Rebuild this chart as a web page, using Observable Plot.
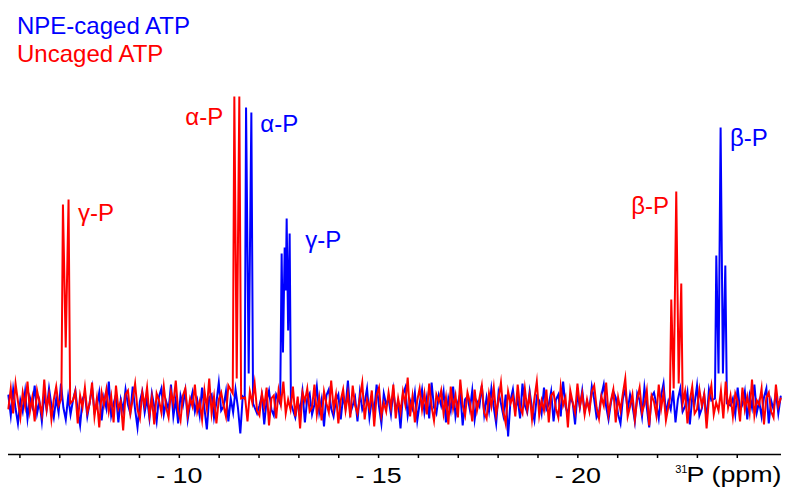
<!DOCTYPE html>
<html>
<head>
<meta charset="utf-8">
<script src="https://cdn.jsdelivr.net/npm/d3@7"></script>
<script src="https://cdn.jsdelivr.net/npm/@observablehq/plot@0.6"></script>
<style>
  html, body { margin: 0; padding: 0; background: #fff; }
  #chart svg { display: block; }
</style>
</head>
<body>
<div id="chart"></div>
<script>
// ---- Data ----
const ppmStart = -5.56;
const ppmStep = -0.06;

// baseline noise, NPE-caged ATP (blue)
const blueNoise = [
  8, -12, 14, -5, -20, 3, -8, 12, -15, 6, -3, 18, -10, 2, -18, 9, -6, 15, -2, -14,
  5, -9, 20, -4, -16, 7, -11, 3, 13, -7, -22, 4, 10, -13, 1, 16, -8, -3, 11, -17,
  6, -5, 22, -12, 0, 9, -19, 4, -7, 14, -1, -10, 17, -6, -24, 2, 12, -9, 5, -15,
  10, -3, -18, 7, 15, -11, 2, -6, 19, -13, 4, -20, 8, -2, 13, -16, 0, 11, -8, 3,
  -12, 16, -5, -26, 6, 9, -14, 1, 21, -7, -3, 12, -18, 5, -9, 14, -4, -30, 7, 2,
  11, -15, 4, 18, -10, -2, 8, -21, 3, 13, -6, -12, 9, 0, -17, 15, -8, 6, -3, 20,
  -14, 2, -7, 12, -19, 5, 10, -11, -1, 17, -9, 4, -23, 8, 14, -5, -13, 3, 9, -16,
  7, -4, 23, -10, -2, 6, -18, 11, -6, 1, 15, -14, 4, -8, 19, -3, -20, 10, -1, 5,
  -11, 13, -7, 2, -25, 9, 16, -12, 3, -5, 11, -17, 0, 14, -9, 6, -15, 21, -4, -10,
  8, -2, 12, -19, 5, -7, 17, -13, 1, 10, -22, 4, 7, -6, 13, -16, 2, -3, 18, -11,
  6, -8, 15, -4, -20, 11, 0, -12, 9, -33, 3, 14, -7, 5, -15, 20, -2, -9, 12, -5,
  -17, 7, 3, -10, 16, -6, -1, 12, -18, 4, 9, -13, 22, -3, -11, 6, 1, -21, 10, -4,
  13, -8, 2, -6, 17, 4, -14, -9, 8, 19, -3, -16, 1, 12, 6, -11, -20, 5, 14, -7,
  9, -2, -18, 10, 3, -13, 16, -4, -24, 7, 11, -1, -15, 8, 20, -10, 2, -6, 13, -19,
  4, 15, -8, -3, 11, -21, 6, 0, 18, -12, -5, 9, -17, 14, 3, -8, 22, -14, 1, 7,
  -26, 10, -2, 5, -11, 16, -7, -1, 12, -16, 8, -4, 19, -9, 2, -13, 6, 15, -20, 3,
  -6, 11, -10, 7
];

// baseline noise, uncaged ATP (red)
const redNoise = [
  -5, 15, -10, 20, 2, -14, 11, -3, 22, -8, 6, -18, 13, 1, -11, 24, -6, 9, -16, 4,
  17, -2, -12, 10, -7, 19, -15, 3, 12, -20, 8, -4, 16, -9, 0, 21, -13, 5, -24, 11,
  -1, 14, -8, 7, -19, 18, -5, 2, -27, 9, 13, -10, 4, 20, -6, -15, 11, -2, 16, -12,
  6, -21, 10, 3, -9, 17, -4, -14, 12, 0, 23, -7, -17, 8, 15, -11, 5, -3, 19, -8,
  2, -16, 13, -5, 25, -10, 7, -20, 4, 11, -2, -13, 18, -6, 9, -29, 3, 14, -9, 6,
  -18, 12, 1, 20, -7, -12, 10, -3, 16, -22, 5, 8, -15, 13, -1, 22, -10, 4, -6, 17,
  -13, 7, -25, 11, 2, 15, -8, -4, 19, -11, 6, -17, 12, 0, -9, 23, -5, 9, -20, 3,
  14, -7, 10, -14, 18, -2, -10, 6, 21, -16, 4, -5, 13, -23, 8, 16, -12, 1, -8, 11,
  -4, 19, -15, 5, -9, 12, -1, 26, -13, 7, -19, 3, 15, -6, 10, -11, 20, -3, -17, 9,
  2, 13, -10, 6, -21, 17, -5, 8, -14, 24, -2, -12, 11, 1, -18, 14, -7, 5, 18, -9,
  -15, 10, -3, 16, -11, 4, 21, -8, -20, 12, 0, 7, -13, 19, -4, -10, 15, -6, 9, -16,
  5, 22, -12, 3, -7, 14, -19, 8, 11, -5, -14, 17, -2, 6, -24, 13, 1, -9, 20, -3,
  10, -11, 4, -8, 12, 18, -4, -15, 7, -2, 21, -11, 3, 14, -19, 6, -7, 10, 25, -13,
  -3, 9, -16, 4, 16, -9, -1, 13, -22, 8, 2, -12, 19, -5, 11, -17, 0, 15, -8, 20,
  -14, 6, -3, 12, -20, 3, 17, -10, -6, 14, -2, 9, -25, 5, 18, -11, 1, -7, 13, -15,
  22, -4, 8, -13, 10, 2, -18, 16, -6, 7, -9, 24, -12, 3, -1, 15, -21, 6, 11, -8,
  -14, 19, -3, 5
];

// peak multiplets (ppm, intensity) — NPE-caged ATP
const bluePeakPpm = [
  -11.49, -11.524, -11.59, -11.657, -11.70,                       // alpha
  -12.38, -12.417, -12.45, -12.493, -12.52, -12.543, -12.58, -12.618, -12.65, // gamma
  -23.29, -23.324, -23.38, -23.432, -23.49, -23.550, -23.59       // beta
];
const bluePeakInt = [
  5, 296, 30, 291, 0,
  0, 150, 51, 156, 113, 185, 73, 170, 0,
  5, 148, 30, 276, 30, 138, 0
];

// peak multiplets (ppm, intensity) — uncaged ATP
const redPeakPpm = [
  -6.89, -6.929, -6.999, -7.070, -7.11,                           // gamma
  -11.19, -11.230, -11.29, -11.355, -11.40,                       // alpha
  -22.16, -22.194, -22.255, -22.319, -22.38, -22.445, -22.48      // beta
];
const redPeakInt = [
  5, 199, 56, 204, 0,
  10, 307, 25, 307, 5,
  5, 104, 15, 212, 20, 120, 0
];

// peak labels
const labelText  = ["γ-P", "α-P", "β-P", "α-P", "γ-P", "β-P"];
const labelPpm   = [-7.306, -10.0, -21.19, -11.883, -13.012, -23.665];
const labelInt   = [183, 279, 190, 272, 156, 258];
const labelSeries = ["Uncaged ATP", "Uncaged ATP", "Uncaged ATP", "NPE-caged ATP", "NPE-caged ATP", "NPE-caged ATP"];

const seriesNames = ["NPE-caged ATP", "Uncaged ATP"];
const seriesColors = ["#0000ff", "#ff0000"];

const xTicks = d3.range(-6, -25, -1);

// ---- Build spectra ----
function buildSpectrum(noise, peakPpm, peakInt, name) {
  const pts = [];
  noise.forEach((v, i) => {
    const p = ppmStart + i * ppmStep;
    if (!peakPpm.some(q => Math.abs(q - p) < 0.05)) pts.push({ppm: p, I: v, series: name});
  });
  peakPpm.forEach((p, i) => pts.push({ppm: p, I: peakInt[i], series: name}));
  pts.sort((a, b) => b.ppm - a.ppm);
  return pts;
}
const blue = buildSpectrum(blueNoise, bluePeakPpm, bluePeakInt, seriesNames[0]);
const red = buildSpectrum(redNoise, redPeakPpm, redPeakInt, seriesNames[1]);
const labels = labelText.map((t, i) => ({t, ppm: labelPpm[i], I: labelInt[i], series: labelSeries[i]}));

const font = "'Liberation Sans', Arial, Helvetica, sans-serif";

const chart = Plot.plot({
  width: 786,
  height: 488,
  marginLeft: 8,
  marginRight: 5,
  marginTop: 0,
  marginBottom: 34,
  style: {background: "#fff", fontFamily: font},
  x: {domain: [-5.563, -24.96], label: null},
  y: {domain: [-51, 403], axis: null},
  color: {domain: seriesNames, range: seriesColors},
  marks: [
    Plot.lineY(blue, {x: "ppm", y: "I", stroke: seriesColors[0], strokeWidth: 2, strokeLinejoin: "miter", strokeMiterlimit: 10}),
    Plot.lineY(red, {x: "ppm", y: "I", stroke: seriesColors[1], strokeWidth: 2, strokeLinejoin: "miter", strokeMiterlimit: 10}),
    Plot.text(labels, {x: "ppm", y: "I", text: "t", fill: d => d.series === seriesNames[0] ? seriesColors[0] : seriesColors[1],
      textAnchor: "start", lineAnchor: "bottom", fontSize: 24, fontFamily: font}),
    Plot.ruleY([-51], {stroke: "#000", strokeWidth: 1.5}),
    Plot.axisX({ticks: xTicks, tickSize: 4, tickPadding: 9, strokeWidth: 1.5,
      tickFormat: d => (d % 5 === 0 ? "- " + (-d) : ""), fontSize: 22, fill: "#000", dx: -6, fontFamily: font}),
    // axis label 31P (ppm)
    Plot.text(["P (ppm)"], {frameAnchor: "bottom-right", textAnchor: "end", lineAnchor: "bottom", dy: 27, fontSize: 22, fill: "#000", fontFamily: font}),
    Plot.text(["31"], {frameAnchor: "bottom-right", textAnchor: "end", lineAnchor: "bottom", dx: -94, dy: 18, fontSize: 11, fill: "#000", fontFamily: font}),
    // legend
    Plot.text([seriesNames[0]], {frameAnchor: "top-left", textAnchor: "start", lineAnchor: "bottom", dx: 8.5, dy: 33.3, fontSize: 24, fill: seriesColors[0], fontFamily: font}),
    Plot.text([seriesNames[1]], {frameAnchor: "top-left", textAnchor: "start", lineAnchor: "bottom", dx: 8.5, dy: 61.7, fontSize: 24, fill: seriesColors[1], fontFamily: font})
  ]
});

// the reference's axis lettering is horizontally wider: stretch it about each text's anchor
function stretchText(t, sx) {
  const tr = t.getAttribute("transform");
  if (tr) {
    t.setAttribute("transform", tr + ` scale(${sx},1)`);
  } else {
    const x = +t.getAttribute("x") || 0, y = +t.getAttribute("y") || 0;
    t.setAttribute("x", 0); t.setAttribute("y", 0);
    t.setAttribute("transform", `translate(${x},${y}) scale(${sx},1)`);
  }
}
chart.querySelectorAll('[aria-label="x-axis tick label"] text').forEach(t => stretchText(t, 1.22));
chart.querySelectorAll("text").forEach(t => { if (t.textContent === "P (ppm)") stretchText(t, 1.22); });

document.getElementById("chart").appendChild(chart);
</script>
</body>
</html>
